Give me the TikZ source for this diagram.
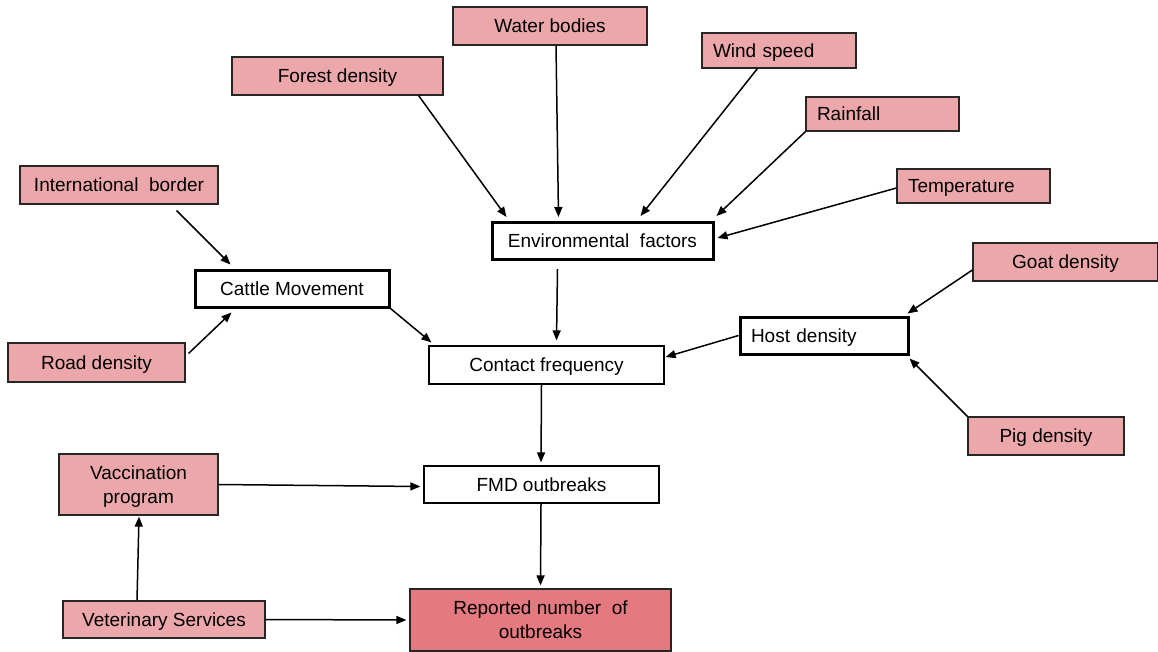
\documentclass[tikz,border=0pt]{standalone}
\usepackage{fontspec}
\setmainfont{Liberation Sans}
\usetikzlibrary{arrows.meta}
\definecolor{pinkbox}{RGB}{236,167,171}
\definecolor{redbox}{RGB}{228,121,128}
\begin{document}
\begin{tikzpicture}[x=1pt,y=-1pt,
  factor/.style={draw=black!85,line width=1.2pt,fill=pinkbox,inner sep=0pt,minimum height=38pt,align=center},
  leftfactor/.style={factor,align=left,inner xsep=11pt},
  twoline/.style={text height=40pt},
  keybox/.style={draw,line width=3pt,fill=white,inner sep=0pt,minimum height=37pt},
  plainbox/.style={draw,line width=1.2pt,fill=white,inner sep=0pt,minimum height=38pt},
  link/.style={-{Triangle[length=10pt,width=8pt]},line width=1.5pt},
  every node/.style={font=\fontsize{19}{24}\selectfont,text height=16pt,text depth=2.4pt}]

\useasboundingbox (0,0) rectangle (1158,651);

\node[factor,minimum width=194pt] (water) at (550,26) {Water bodies};
\node[factor,minimum width=211pt] (forest) at (337.5,76) {Forest density};
\node[leftfactor,text width=132pt,minimum height=35pt] (wind) at (779,50.5) {Wind speed};
\node[leftfactor,text width=131pt,minimum height=34pt] (rain) at (882.5,114) {Rainfall};
\node[leftfactor,text width=131pt,minimum height=34pt] (temp) at (973.5,186) {Temperature};
\node[factor,minimum width=198pt] (intl) at (119,185) {International~ border};
\node[keybox,minimum width=221pt] (env) at (602.5,241) {Environmental~ factors};
\node[keybox,minimum width=194pt] (cattle) at (292,288.5) {Cattle Movement};
\node[factor,minimum width=177pt,minimum height=39pt] (road) at (96.5,362.5) {Road density};
\node[plainbox,minimum width=235pt] (contact) at (546.5,365) {Contact frequency};
\node[factor,minimum width=185pt] (goat) at (1065.5,262) {Goat density};
\node[keybox,text width=146pt,inner xsep=11pt,align=left] (host) at (824,335.5) {Host density};
\node[factor,minimum width=156pt] (pig) at (1046,436) {Pig density};
\node[factor,twoline,minimum width=159pt,minimum height=61pt] (vacc) at (138.5,484.5) {Vaccination\\program};
\node[plainbox,minimum width=235pt,minimum height=37pt] (fmd) at (541.5,484.5) {FMD outbreaks};
\node[factor,minimum width=202pt,minimum height=37pt] (vet) at (164,619.5) {Veterinary Services};
\node[factor,twoline,fill=redbox,minimum width=261pt,minimum height=62pt] (reported) at (540.5,620) {Reported number~ of\\outbreaks};

\path[draw,link] ([xshift=-25pt]forest.south east) -- ([xshift=16pt,yshift=4pt]env.north west);
\path[draw,link] ([xshift=6pt]water.south) -- ([xshift=68pt,yshift=4pt]env.north west);
\path[draw,link] ([xshift=56pt]wind.south west) -- ([xshift=150pt,yshift=5pt]env.north west);
\path[draw,link] (rain.south west) -- ([xshift=2pt,yshift=5pt]env.north east);
\path[draw,link] ([yshift=-2pt]temp.west) -- ([xshift=3pt,yshift=3pt]env.east);

\path[draw,link] ([xshift=-42pt,yshift=-6pt]intl.south east) -- ([xshift=37pt,yshift=4pt]cattle.north west);
\path[draw,link] ([xshift=3pt,yshift=-11pt]road.north east) -- ([xshift=38pt,yshift=-4pt]cattle.south west);
\path[draw,link] (cattle.south east) -- ([xshift=3pt,yshift=3pt]contact.north west);
\path[draw,link] ([xshift=-45pt,yshift=-8pt]env.south) -- ([xshift=10pt,yshift=5pt]contact.north);
\path[draw,link] (host.west) -- ([xshift=1pt,yshift=8pt]contact.east);
\path[draw,link] ([yshift=-8pt]goat.west) -- ([xshift=-2pt,yshift=2pt]host.north east);
\path[draw,link] (pig.north west) -- ([yshift=-3pt]host.south east);

\path[draw,link] ([xshift=-5pt]contact.south) -- ([xshift=-0.5pt,yshift=3pt]fmd.north);
\path[draw,link] ([xshift=-0.5pt]fmd.south) -- ([yshift=3pt]reported.north);
\path[draw,link] (vacc.east) -- ([xshift=-3pt,yshift=-2pt]fmd.west);
\path[draw,link] ([xshift=-27pt]vet.north) -- ([xshift=0.5pt,yshift=-1pt]vacc.south);
\path[draw,link] (vet.east) -- ([xshift=-3pt]reported.west);

\end{tikzpicture}
\end{document}
